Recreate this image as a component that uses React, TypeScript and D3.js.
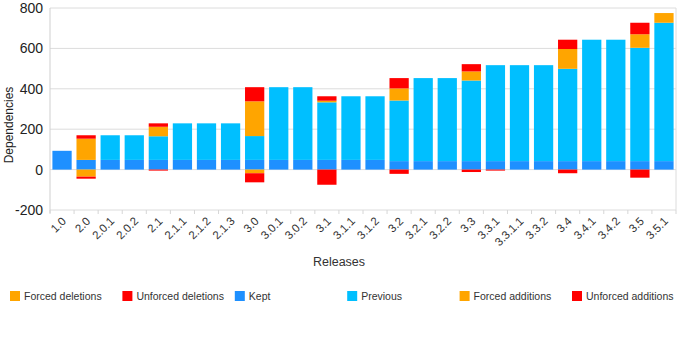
import * as d3 from 'd3'

// dependency counts per release, split by how they changed
const releases = [
  '1.0', '2.0', '2.0.1', '2.0.2', '2.1', '2.1.1', '2.1.2', '2.1.3', '3.0', '3.0.1', '3.0.2', '3.1', '3.1.1',
  '3.1.2', '3.2', '3.2.1', '3.2.2', '3.3', '3.3.1', '3.3.1.1', '3.3.2', '3.4', '3.4.1', '3.4.2', '3.5', '3.5.1',
]
const kept = [93, 48, 48, 48, 48, 48, 48, 48, 48, 48, 48, 48, 48, 48, 42, 42, 42, 42, 42, 42, 42, 42, 42, 42, 42, 42]
const previous = [0, 0, 122, 122, 117, 181, 181, 181, 118, 360, 360, 285, 315, 315, 300, 411, 411, 399, 475, 475, 475, 457, 601, 601, 561, 685]
const forcedAdditions = [0, 105, 0, 0, 47, 0, 0, 0, 172, 0, 0, 8, 0, 0, 60, 0, 0, 45, 0, 0, 0, 98, 0, 0, 67, 48]
const unforcedAdditions = [0, 17, 0, 0, 17, 0, 0, 0, 70, 0, 0, 22, 0, 0, 51, 0, 0, 36, 0, 0, 0, 46, 0, 0, 57, 0]
const forcedDeletions = [0, 35, 0, 0, 0, 0, 0, 0, 18, 0, 0, 0, 0, 0, 0, 0, 0, 0, 0, 0, 0, 0, 0, 0, 0, 0]
const unforcedDeletions = [0, 10, 0, 0, 5, 0, 0, 0, 45, 0, 0, 75, 0, 0, 21, 0, 0, 12, 5, 0, 0, 18, 0, 0, 40, 0]

const yTicks = [-200, 0, 200, 400, 600, 800]

const seriesKeys = ['kept', 'previous', 'forcedAdditions', 'unforcedAdditions', 'forcedDeletions', 'unforcedDeletions']
const colors: Record<string, string> = {
  kept: '#1e90ff',
  previous: '#00bfff',
  forcedAdditions: '#ffa500',
  unforcedAdditions: '#ff0000',
  forcedDeletions: '#ffa500',
  unforcedDeletions: '#ff0000',
}
const legendItems = [
  { key: 'forcedDeletions', label: 'Forced deletions' },
  { key: 'unforcedDeletions', label: 'Unforced deletions' },
  { key: 'kept', label: 'Kept' },
  { key: 'previous', label: 'Previous' },
  { key: 'forcedAdditions', label: 'Forced additions' },
  { key: 'unforcedAdditions', label: 'Unforced additions' },
]

const W = 683
const H = 338
const plot = { left: 50, right: 676, top: 8, bottom: 210 }
const font = '"Liberation Sans", Arial, sans-serif'

export default function App() {
  const rows = releases.map((release, i) => ({
    release,
    kept: kept[i],
    previous: previous[i],
    forcedAdditions: forcedAdditions[i],
    unforcedAdditions: unforcedAdditions[i],
    forcedDeletions: -forcedDeletions[i],
    unforcedDeletions: -unforcedDeletions[i],
  }))

  const stacked = d3
    .stack<any>()
    .keys(seriesKeys)
    .offset(d3.stackOffsetDiverging)(rows)

  const x = d3
    .scaleBand<string>()
    .domain(releases)
    .range([plot.left, plot.right])
    .paddingInner(0.2)
    .paddingOuter(0.1)
  const y = d3.scaleLinear().domain([-200, 800]).range([plot.bottom, plot.top])

  const step = x.step()
  const boundaries = d3.range(releases.length + 1).map((i) => plot.left + i * step)

  return (
    <svg
      width={W}
      height={H}
      style={{ position: 'absolute', left: 0, top: 0, background: '#fff' }}
      fontFamily={font}
    >
      {/* grid */}
      {yTicks.map((t) => (
        <line key={t} x1={plot.left} x2={plot.right} y1={y(t)} y2={y(t)} stroke="#dcdcdc" strokeWidth={1} />
      ))}
      <line x1={plot.right} x2={plot.right} y1={plot.top} y2={plot.bottom} stroke="#dcdcdc" />
      <line x1={plot.left} x2={plot.left} y1={plot.top} y2={plot.bottom + 3} stroke="#cfcfcf" />
      {boundaries.map((bx, i) => (
        <line key={i} x1={bx} x2={bx} y1={plot.bottom} y2={plot.bottom + 4} stroke="#d6d6d6" />
      ))}

      {/* stacked bars */}
      {stacked.map((layer) => (
        <g key={layer.key} fill={colors[layer.key]}>
          {layer.map((d, i) => {
            const y0 = y(Math.max(d[0], d[1]))
            const y1 = y(Math.min(d[0], d[1]))
            if (y1 - y0 <= 0) return null
            return <rect key={i} x={x(releases[i])} y={y0} width={x.bandwidth()} height={y1 - y0} />
          })}
        </g>
      ))}

      {/* y axis labels */}
      {yTicks.map((t) => (
        <text key={t} x={43} y={y(t)} dy="0.36em" textAnchor="end" fontSize={14} fill="#222">
          {t}
        </text>
      ))}
      <text
        transform={`translate(13, 125) rotate(-90)`}
        textAnchor="middle"
        fontSize={12}
        fill="#222"
      >
        Dependencies
      </text>

      {/* x axis labels */}
      {releases.map((r) => {
        const cx = (x(r) as number) + x.bandwidth() / 2
        return (
          <text
            key={r}
            transform={`translate(${cx + 2}, 219) rotate(-45)`}
            textAnchor="end"
            dy="0.35em"
            fontSize={11.5}
            fill="#333"
          >
            {r}
          </text>
        )
      })}
      <text x={339} y={262} dy="0.35em" textAnchor="middle" fontSize={12.5} fill="#333">
        Releases
      </text>

      {/* legend */}
      {legendItems.map((item, i) => {
        const lx = 10 + i * 112.4
        return (
          <g key={item.key}>
            <rect x={lx} y={291} width={10} height={10} fill={colors[item.key]} />
            <text x={lx + 14} y={296} dy="0.35em" fontSize={10.5} fill="#333">
              {item.label}
            </text>
          </g>
        )
      })}
    </svg>
  )
}
